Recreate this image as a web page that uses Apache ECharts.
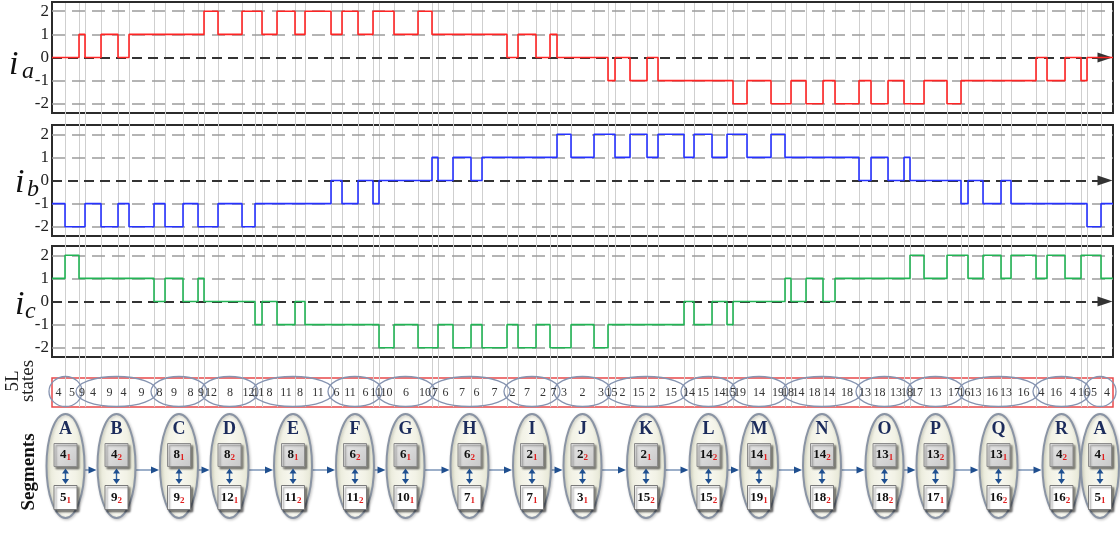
<!DOCTYPE html>
<html>
<head>
<meta charset="utf-8">
<script src="https://cdn.jsdelivr.net/npm/echarts@6/dist/echarts.min.js"></script>
<style>
html, body { margin: 0; padding: 0; background: #fff; }
#chart { width: 1120px; height: 533px; }
</style>
</head>
<body>
<div id="chart"></div>
<script>
// switching instants (time units along the axis)
const switchTimes = [13, 27, 33, 49, 66, 77, 102, 113, 131, 146, 152, 166, 190, 203, 210, 225, 243, 253, 279, 290,
  306, 321, 327, 342, 366, 380, 386, 401, 419, 430, 455, 466, 484, 498, 505, 519, 542, 556, 563, 578,
  595, 606, 632, 642, 660, 675, 681, 695, 719, 733, 739, 754, 771, 783, 807, 819, 836, 852, 858, 872,
  895, 909, 916, 931, 949, 959, 984, 995, 1013, 1029, 1035, 1049];
const tEnd = 1061;

// current level in each interval between switches
const iaLevels = [0, 0, 1, 0, 1, 0, 1, 1, 1, 1, 1, 2, 1, 2, 2, 1, 2, 1, 2, 1, 2, 1, 2, 2, 1, 2, 1, 1, 1, 1, 1,
  0, 1, 0, 1, 0, 0, 0, -1, 0, -1, 0, -1, -1, -1, -1, -1, -2, -1, -2, -2, -1, -2, -1, -2, -1, -2, -1, -2, -2,
  -1, -2, -1, -1, -1, -1, -1, 0, -1, 0, -1, 0, 0];
const ibLevels = [-1, -2, -2, -1, -2, -1, -2, -1, -2, -1, -2, -2, -1, -2, -1, -1, -1, -1, -1, 0, -1, 0, -1, 0, 0, 0,
  1, 0, 1, 0, 1, 1, 1, 1, 1, 2, 1, 2, 2, 1, 2, 1, 2, 1, 2, 1, 2, 2, 1, 2, 1, 1, 1, 1, 1, 0, 1, 0, 1, 0,
  0, 0, -1, 0, -1, 0, -1, -1, -1, -1, -1, -2, -1];
const icLevels = [1, 2, 1, 1, 1, 1, 1, 0, 1, 0, 1, 0, 0, 0, -1, 0, -1, 0, -1, -1, -1, -1, -1, -2, -1, -2,
  -2, -1, -2, -1, -2, -1, -2, -1, -2, -2, -1, -2, -1, -1, -1, -1, -1, 0, -1, 0, -1, 0, 0, 0, 1, 0, 1, 0, 1,
  1, 1, 1, 1, 2, 1, 2, 2, 1, 2, 1, 2, 1, 2, 1, 2, 2, 1];

// 5L state in each interval
const states = ['4', '5', '9', '4', '9', '4', '9', '8', '9', '8', '9', '12', '8', '12', '11', '8', '11', '8', '11',
  '6', '11', '6', '11', '10', '6', '10', '7', '6', '7', '6', '7', '2', '7', '2', '7', '3', '2', '3',
  '15', '2', '15', '2', '15', '14', '15', '14', '15', '19', '14', '19', '18', '14', '18', '14', '18',
  '13', '18', '13', '18', '17', '13', '17', '16', '13', '16', '13', '16', '4', '16', '4', '16', '5', '4'];

// segments
const segLetters = ['A', 'B', 'C', 'D', 'E', 'F', 'G', 'H', 'I', 'J', 'K', 'L', 'M', 'N', 'O', 'P', 'Q', 'R', 'A'];
const segCells = [2, 5, 4, 3, 5, 4, 3, 5, 4, 3, 5, 4, 3, 5, 4, 3, 5, 4, 2];
const segTop = ['4', '4', '8', '8', '8', '6', '6', '6', '2', '2', '2', '14', '14', '14', '13', '13', '13', '4', '4'];
const segTopSub = ['1', '2', '1', '2', '1', '2', '1', '2', '1', '2', '1', '2', '1', '2', '1', '2', '1', '2', '1'];
const segBot = ['5', '9', '9', '12', '11', '11', '10', '7', '7', '3', '15', '15', '19', '18', '18', '17', '16', '16', '5'];
const segBotSub = ['1', '2', '2', '1', '2', '2', '1', '1', '1', '1', '2', '2', '1', '2', '2', '1', '2', '2', '1'];

const dashLevels = [-2, -1, 1, 2];

const SERIF = "'Liberation Serif', 'Times New Roman', serif";
const bounds = [0].concat(switchTimes, [tEnd]);

function stepData(levels) {
  const d = levels.map((v, i) => [bounds[i], v]);
  d.push([tEnd, levels[levels.length - 1]]);
  return d;
}

const segRanges = [];
let cc = 0;
segCells.forEach(n => { segRanges.push([bounds[cc], bounds[cc + n]]); cc += n; });
const segCenters = segRanges.map(r => (r[0] + r[1]) / 2);

const chart = echarts.init(document.getElementById('chart'));

const panelTops = [2, 125, 246];
const panelColors = ['#ff2424', '#2632ff', '#22b455'];
const panelLevels = [iaLevels, ibLevels, icLevels];

const grids = panelTops.map(t => ({
  left: 52, right: 7, top: t, height: 111, show: true,
  borderColor: '#2b2b2b', borderWidth: 2, backgroundColor: 'transparent'
}));
grids.push({ left: 52, right: 7, top: 378, height: 29, show: true, borderColor: '#e8484a', borderWidth: 1.5 });
grids.push({ left: 52, right: 7, top: 412, height: 112, show: false });
grids.push({ left: 52, right: 7, top: 3, height: 404, show: false });

const xAxes = grids.map((g, i) => ({ gridIndex: i, type: 'value', min: 0, max: tEnd, show: false }));
const yAxes = grids.map((g, i) => {
  if (i < 3) {
    return {
      gridIndex: i, type: 'value', min: -2.4, max: 2.4, interval: 0.2,
      axisLine: { show: false }, axisTick: { show: false }, splitLine: { show: false },
      axisLabel: {
        margin: 3, color: '#222', fontFamily: SERIF, fontSize: 17,
        formatter: v => { const r = Math.round(v * 10) / 10; return Number.isInteger(r) ? String(r) : ''; }
      }
    };
  }
  return { gridIndex: i, type: 'value', min: 0, max: 1, show: false };
});

const series = [];

// switching instants: thin gray verticals
series.push({
  type: 'custom', xAxisIndex: 5, yAxisIndex: 5, z: 0, silent: true, animation: false,
  data: switchTimes.map(t => [t, 0]),
  encode: { x: 0, y: 1 },
  renderItem: (params, api) => {
    const a = api.coord([api.value(0), 1]);
    const b = api.coord([api.value(0), 0]);
    const x = Math.round(a[0]) + 0.5;
    return { type: 'line', shape: { x1: x, y1: a[1], x2: x, y2: b[1] }, style: { stroke: '#cfcfcf', lineWidth: 1 } };
  }
});

// current step lines with level dashes
panelLevels.forEach((lv, i) => {
  series.push({
    type: 'line', step: 'end', xAxisIndex: i, yAxisIndex: i, z: 3,
    symbol: 'none', animation: false, silent: true,
    lineStyle: { color: panelColors[i], width: 1.6 },
    data: stepData(lv),
    markLine: {
      silent: true, symbol: 'none', z: 1, animation: false,
      label: { show: false },
      lineStyle: { color: '#9c9c9c', type: [13, 7], width: 1.6 },
      data: dashLevels.map(v => ({ yAxis: v })).concat([[
        { coord: [0, 0], symbol: 'none', lineStyle: { color: '#333', type: [10, 6], width: 2 } },
        { coord: [tEnd - 8, 0], symbol: 'triangle', symbolSize: [10, 15], itemStyle: { color: '#000' },
          lineStyle: { color: '#333', type: [10, 6], width: 2 } }
      ]])
    }
  });
});

// 5L state ellipses
series.push({
  type: 'custom', xAxisIndex: 3, yAxisIndex: 3, z: 2, silent: true, animation: false,
  data: segRanges.map((r, i) => [(r[0] + r[1]) / 2, (r[1] - r[0]) / 2, i]),
  encode: { x: 0 },
  renderItem: (params, api) => {
    const p = api.coord([api.value(0), 0.5]);
    const w = api.size([api.value(1), 0])[0];
    return {
      type: 'ellipse', shape: { cx: p[0], cy: p[1] - 1, rx: w + 3, ry: 15 },
      style: { fill: 'none', stroke: '#8593b0', lineWidth: 1.3 }
    };
  }
});

// 5L state labels
series.push({
  type: 'custom', xAxisIndex: 3, yAxisIndex: 3, z: 3, silent: true, animation: false,
  data: states.map((s, i) => [(bounds[i] + bounds[i + 1]) / 2, 0.5, i]),
  encode: { x: 0, y: 1 },
  renderItem: (params, api) => {
    const p = api.coord([api.value(0), api.value(1)]);
    return {
      type: 'text', x: p[0], y: p[1],
      style: {
        text: states[api.value(2)], fill: '#333', fontFamily: SERIF, fontSize: 12,
        align: 'center', verticalAlign: 'middle', textAlign: 'center', textVerticalAlign: 'middle'
      }
    };
  }
});

// segments row
const boxText = (x, y, main, sub) => ({
  type: 'text', x: x, y: y,
  style: {
    text: '{m|' + main + '}{s|' + sub + '}',
    align: 'center', verticalAlign: 'middle', textAlign: 'center', textVerticalAlign: 'middle',
    rich: {
      m: { fontFamily: SERIF, fontSize: 13, fontWeight: 'bold', fill: '#111', color: '#111', lineHeight: 15 },
      s: { fontFamily: SERIF, fontSize: 9, fontWeight: 'bold', fill: '#e01e1e', color: '#e01e1e', lineHeight: 9, verticalAlign: 'bottom' }
    }
  }
});

const RX = 19;
series.push({
  type: 'custom', xAxisIndex: 4, yAxisIndex: 4, z: 3, silent: true, animation: false,
  data: segCenters.map((c, i) => [c, i < segCenters.length - 1 ? segCenters[i + 1] : -1, i]),
  encode: { x: 0 },
  renderItem: (params, api) => {
    const i = api.value(2);
    const p = api.coord([api.value(0), 0.5]);
    const cx = p[0], cy = p[1];
    const ch = [];
    const nx = api.value(1);
    if (nx >= 0) {
      const q = api.coord([nx, 0.5]);
      const x1 = cx + RX, x2 = q[0] - RX - 1, y = cy + 2;
      ch.push({ type: 'line', shape: { x1: x1, y1: y, x2: x2 - 5, y2: y }, style: { stroke: '#5a7aa6', lineWidth: 1.2 } });
      ch.push({ type: 'polygon', shape: { points: [[x2, y], [x2 - 8, y - 3.5], [x2 - 8, y + 3.5]] }, style: { fill: '#1f4f8f' } });
    }
    ch.push({
      type: 'ellipse', shape: { cx: cx, cy: cy - 2, rx: RX, ry: 52 },
      style: {
        fill: new echarts.graphic.LinearGradient(0, 0, 1, 0, [
          { offset: 0, color: '#e3e4d1' }, { offset: 0.25, color: '#f2f2e6' }, { offset: 0.5, color: '#f8f8f0' },
          { offset: 0.75, color: '#f2f2e6' }, { offset: 1, color: '#e3e4d1' }]),
        stroke: '#8a94a4', lineWidth: 2,
        shadowBlur: 3, shadowColor: 'rgba(0,0,0,0.2)', shadowOffsetX: 1, shadowOffsetY: 1
      }
    });
    ch.push({
      type: 'text', x: cx, y: cy - 39,
      style: {
        text: segLetters[i], fill: '#1c2c5c', fontFamily: SERIF, fontSize: 18, fontWeight: 'bold',
        align: 'center', verticalAlign: 'middle', textAlign: 'center', textVerticalAlign: 'middle'
      }
    });
    ch.push({
      type: 'rect', shape: { x: cx - 11.5, y: cy - 24.5, width: 23, height: 23 },
      style: {
        fill: new echarts.graphic.LinearGradient(0, 0, 1, 1, [
          { offset: 0, color: '#e8e8e8' }, { offset: 1, color: '#c8c8c8' }]),
        stroke: '#8c8c8c', lineWidth: 1,
        shadowBlur: 2, shadowColor: 'rgba(0,0,0,0.45)', shadowOffsetX: 2, shadowOffsetY: 2
      }
    });
    ch.push({
      type: 'rect', shape: { x: cx - 11.5, y: cy + 17.5, width: 23, height: 24 },
      style: {
        fill: '#fff', stroke: '#7a7a7a', lineWidth: 1,
        shadowBlur: 2, shadowColor: 'rgba(0,0,0,0.45)', shadowOffsetX: 2, shadowOffsetY: 2
      }
    });
    // double arrow between the two boxes
    const ay1 = cy + 0.5, ay2 = cy + 16;
    ch.push({ type: 'line', shape: { x1: cx, y1: ay1 + 4, x2: cx, y2: ay2 - 4 }, style: { stroke: '#2a5fa0', lineWidth: 1.4 } });
    ch.push({ type: 'polygon', shape: { points: [[cx, ay1], [cx - 3.5, ay1 + 5], [cx + 3.5, ay1 + 5]] }, style: { fill: '#1f4f8f' } });
    ch.push({ type: 'polygon', shape: { points: [[cx, ay2], [cx - 3.5, ay2 - 5], [cx + 3.5, ay2 - 5]] }, style: { fill: '#1f4f8f' } });
    ch.push(boxText(cx, cy - 13, segTop[i], segTopSub[i]));
    ch.push(boxText(cx, cy + 29.5, segBot[i], segBotSub[i]));
    return { type: 'group', children: ch };
  }
});

const italic = (x, y, text, size) => ({
  type: 'text', x: x, y: y,
  style: { text: text, fontFamily: SERIF, fontStyle: 'italic', fontSize: size, fill: '#111', verticalAlign: 'bottom', textVerticalAlign: 'bottom' }
});

const option = {
  animation: false,
  backgroundColor: '#fff',
  grid: grids,
  xAxis: xAxes,
  yAxis: yAxes,
  series: series,
  graphic: [
    italic(9, 82, 'i', 34), italic(22, 84, 'a', 24),
    italic(15, 200, 'i', 34), italic(27, 202, 'b', 24),
    italic(15, 322, 'i', 34), italic(25, 324, 'c', 24),
    {
      type: 'text', x: 21, y: 381, rotation: Math.PI / 2,
      style: {
        text: '5L\nstates', fontFamily: SERIF, fontSize: 19, lineHeight: 15, fill: '#222',
        align: 'center', verticalAlign: 'middle', textAlign: 'center', textVerticalAlign: 'middle'
      }
    },
    {
      type: 'text', x: 29, y: 472, rotation: Math.PI / 2,
      style: {
        text: 'Segments', fontFamily: SERIF, fontSize: 19, fontWeight: 'bold', fill: '#111',
        align: 'center', verticalAlign: 'middle', textAlign: 'center', textVerticalAlign: 'middle'
      }
    }
  ]
};

chart.setOption(option);
window.addEventListener('resize', () => chart.resize());
</script>
</body>
</html>
